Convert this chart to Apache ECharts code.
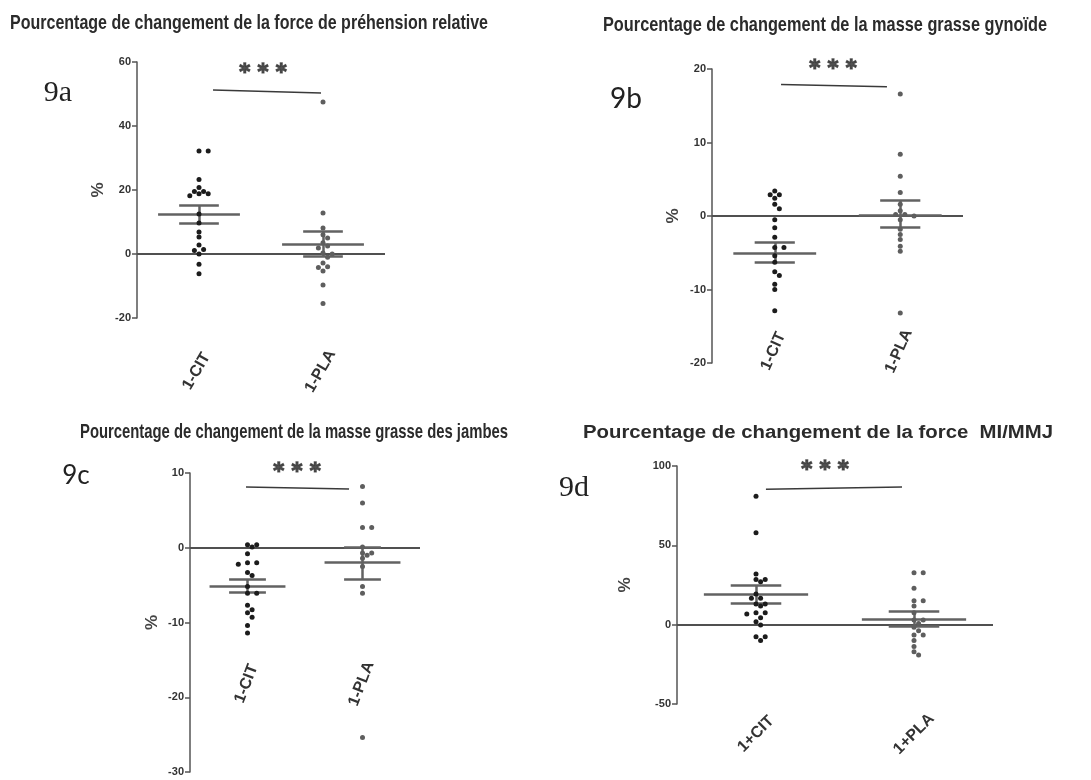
<!DOCTYPE html>
<html>
<head>
<meta charset="utf-8">
<script src="https://cdn.jsdelivr.net/npm/echarts@6/dist/echarts.min.js"></script>
<style>html,body{margin:0;padding:0;background:#fff}#main{width:1091px;height:780px}</style>
</head>
<body>
<div id="main"></div>
<script>
// ---------------- DATA ----------------
const categories = ['1-CIT', '1-PLA'];
const categoriesD = ['1+CIT', '1+PLA'];
const titles = [
  'Pourcentage de changement de la force de préhension relative',
  'Pourcentage de changement de la masse grasse gynoïde',
  'Pourcentage de changement de la masse grasse des jambes',
  'Pourcentage de changement de la force  MI/MMJ'
];
const panelTags = ['9a', '9b', '9c', '9d'];
const yMin = [-20, -20, -30, -50];
const yMax = [60, 20, 10, 100];
const yInterval = [20, 10, 10, 50];
const yName = '%';

const citA = [32.2, 32.2, 23.3, 20.8, 19.5, 18.8, 18.2, 18.8, 19.5, 12.5, 9.7, 6.9, 5.3, 2.8, 1.4, 1.1, 0, -3.2, -6.2];
const plaA = [47.5, 12.8, 8.1, 6.0, 5.0, 3.5, 2.5, 1.9, 0.3, 0, -1.0, -2.8, -4.2, -4.0, -5.3, -9.7, -15.5];
const citB = [3.4, 2.9, 2.9, 2.4, 1.6, 1.0, -0.5, -1.6, -2.9, -4.3, -4.3, -5.4, -6.3, -7.6, -8.1, -9.3, -10.0, -12.9];
const plaB = [16.6, 8.4, 5.4, 3.2, 1.6, 0.7, 0.2, 0.2, 0, -0.5, -1.8, -2.5, -3.2, -4.1, -4.8, -13.2];
const citC = [0.4, 0.4, 0.1, -0.8, -2.0, -2.0, -2.2, -3.3, -3.7, -5.2, -6.1, -6.1, -7.7, -8.3, -8.7, -9.3, -10.4, -11.4];
const plaC = [8.2, 6.0, 2.7, 2.7, 0.1, -0.7, -0.7, -1.0, -1.4, -2.5, -5.2, -6.1, -25.4];
const citD = [81.0, 57.9, 31.9, 28.5, 28.5, 27.0, 19.3, 16.6, 16.6, 13.0, 13.0, 11.7, 7.5, 7.5, 6.7, 4.4, 1.9, -0.2, -7.6, -7.6, -10.0];
const plaD = [32.7, 32.7, 22.9, 15.1, 15.1, 11.7, 7.5, 2.9, 2.9, 0.8, -1.7, -3.8, -6.5, -6.5, -10.0, -13.8, -17.0, -19.1];

const meanCIT = [12.3, -5.0, -5.1, 19.3];
const citSemHi = [15.1, -3.6, -4.2, 25.0];
const citSemLo = [9.6, -6.3, -6.0, 13.8];
const meanPLA = [3.2, 0.1, -2.0, 3.4];
const plaSemHi = [7.2, 2.1, 0.1, 8.2];
const plaSemLo = [-0.6, -1.5, -4.2, -1.3];

// significance bar (category units, value units)
const sigX1 = [0.113, 0.05, -0.013, 0.063];
const sigY1 = [51.25, 17.9, 8.14, 85.4];
const sigX2 = [0.984, 0.894, 0.883, 0.924];
const sigY2 = [50.3, 17.6, 7.87, 86.7];
const starX = [0.516, 0.464, 0.43, 0.437];
const starY = [57.2, 20.4, 10.4, 99.2];
const starText = '* * *';

const citData = [citA, citB, citC, citD];
const plaData = [plaA, plaB, plaC, plaD];

// ---------------- LAYOUT ----------------
const grids = [
  {left: 137, top: 62, width: 248, height: 256},
  {left: 712, top: 69, width: 251, height: 294},
  {left: 190, top: 473, width: 230, height: 299},
  {left: 677, top: 466, width: 316, height: 238}
];
const labelRotate = [60, 66, 69, 45];
const labelMargin = [49, -15, -91, 30];
const labelPad = [[0, 10, 17, 0], [0, 7, 16, 0], [0, 6, 17, 0], [0, 0, 0, 0]];
const nameGap = [30, 30, 29, 43];
const titleBox = [
  {x: 10, w: 478, y: 23, font: 'bold 21px "Liberation Sans Narrow", "Liberation Sans", Arial'},
  {x: 603, w: 444, y: 25, font: 'bold 21px "Liberation Sans Narrow", "Liberation Sans", Arial'},
  {x: 80, w: 428, y: 432, font: 'bold 21px "Liberation Sans Narrow", "Liberation Sans", Arial'},
  {x: 583, w: 470, y: 433, font: 'bold 18px "Liberation Sans", Arial'}
];
const tagBox = [
  {x: 58, y: 93, font: '30px "Liberation Serif", serif'},
  {x: 626, y: 99, font: '28px Lato, "Open Sans", sans-serif'},
  {x: 76, y: 476, font: '26px Lato, "Open Sans", sans-serif'},
  {x: 574, y: 488, font: '30px "Liberation Serif", serif'}
];

function measure(font, text) {
  const c = document.createElement('canvas').getContext('2d');
  c.font = font;
  return c.measureText(text).width;
}

// simple beeswarm layout in pixel space
function swarm(vals, center, pxPerUnit, bandPx) {
  const d = 5.0, step = 4.6;
  const placed = [];
  const sorted = vals.slice().sort((a, b) => b - a);
  return sorted.map(v => {
    const py = v * pxPerUnit;
    let off = 0;
    for (let i = 0; i < 60; i++) {
      off = i === 0 ? 0 : (i % 2 ? 1 : -1) * Math.ceil(i / 2) * step;
      if (placed.every(p => Math.hypot(p[0] - off, p[1] - py) >= d)) break;
    }
    placed.push([off, py]);
    return [center + off / bandPx, v];
  });
}

const xAxes = [], yAxes = [], series = [], graphic = [];
const axisFont = '"Liberation Sans Narrow", "Liberation Sans", Arial';

for (let i = 0; i < 4; i++) {
  xAxes.push({
    type: 'category', gridIndex: i, data: i === 3 ? categoriesD : categories,
    position: 'bottom', boundaryGap: true,
    axisLine: {show: false, onZero: false}, axisTick: {show: false}, splitLine: {show: false},
    axisLabel: {
      interval: 0, rotate: labelRotate[i], margin: labelMargin[i], align: 'center', verticalAlign: 'middle',
      fontFamily: '"Liberation Sans", Arial', fontWeight: 'bold', fontSize: 16, color: '#333',
      padding: labelPad[i]
    }
  });
  yAxes.push({
    type: 'value', gridIndex: i, min: yMin[i], max: yMax[i], interval: yInterval[i],
    axisLine: {show: true, onZero: false, lineStyle: {color: '#555', width: 1.5}},
    axisTick: {show: true, length: 5, lineStyle: {color: '#555', width: 1.5}},
    axisLabel: {margin: 6, fontSize: 11, fontWeight: 'bold', color: '#333', fontFamily: axisFont},
    splitLine: {show: false},
    name: yName, nameLocation: 'middle', nameGap: nameGap[i],
    nameTextStyle: {fontSize: 17, fontWeight: 'bold', color: '#444', fontFamily: '"Liberation Sans", Arial'}
  });
  graphic.push({
    type: 'text', x: titleBox[i].x, y: titleBox[i].y,
    scaleX: titleBox[i].w / measure(titleBox[i].font, titles[i]),
    style: {text: titles[i], font: titleBox[i].font, fill: '#2b2b2b', align: 'left', verticalAlign: 'middle'}
  });
  graphic.push({
    type: 'text', x: tagBox[i].x, y: tagBox[i].y,
    style: {text: panelTags[i], font: tagBox[i].font, fill: '#222', align: 'center', verticalAlign: 'middle'}
  });
}
for (let i = 0; i < 4; i++) {
  xAxes.push({type: 'value', gridIndex: i, min: -0.5, max: 1.5, show: false, position: 'top'});
}

for (let i = 0; i < 4; i++) {
  const g = grids[i];
  const pxPerUnit = g.height / (yMax[i] - yMin[i]);
  const bandPx = g.width / 2;
  const xi = 4 + i;
  // zero line
  series.push({
    type: 'lines', coordinateSystem: 'cartesian2d', xAxisIndex: xi, yAxisIndex: i, silent: true, z: 1,
    lineStyle: {color: '#505050', width: 2, opacity: 1},
    data: [{coords: [[-0.5, 0], [1.5, 0]]}]
  });
  // mean + SEM
  const segs = [];
  [[0, meanCIT[i], citSemHi[i], citSemLo[i]], [1, meanPLA[i], plaSemHi[i], plaSemLo[i]]].forEach(([c, m, hi, lo]) => {
    segs.push({coords: [[c - 0.33, m], [c + 0.33, m]]});
    segs.push({coords: [[c - 0.16, hi], [c + 0.16, hi]]});
    segs.push({coords: [[c - 0.16, lo], [c + 0.16, lo]]});
    segs.push({coords: [[c, lo], [c, hi]]});
  });
  series.push({
    type: 'lines', coordinateSystem: 'cartesian2d', xAxisIndex: xi, yAxisIndex: i, silent: true, z: 2,
    lineStyle: {color: '#626262', width: 2.5, opacity: 1}, data: segs
  });
  // significance line
  series.push({
    type: 'lines', coordinateSystem: 'cartesian2d', xAxisIndex: xi, yAxisIndex: i, silent: true, z: 2, clip: false,
    lineStyle: {color: '#3a3a3a', width: 1.5, opacity: 1},
    data: [{coords: [[sigX1[i], sigY1[i]], [sigX2[i], sigY2[i]]]}]
  });
  series.push({
    type: 'scatter', xAxisIndex: xi, yAxisIndex: i, symbolSize: 5, z: 3,
    itemStyle: {color: '#1c1c1c', opacity: 1},
    data: swarm(citData[i], 0, pxPerUnit, bandPx)
  });
  series.push({
    type: 'scatter', xAxisIndex: xi, yAxisIndex: i, symbolSize: 5, z: 3,
    itemStyle: {color: '#5e5e5e', opacity: 1},
    data: swarm(plaData[i], 1, pxPerUnit, bandPx)
  });
  series.push({
    type: 'scatter', xAxisIndex: xi, yAxisIndex: i, symbolSize: 1, clip: false, silent: true, z: 4,
    itemStyle: {color: 'transparent'},
    label: {show: true, position: 'inside', formatter: starText, offset: [0, 3],
      fontFamily: '"DejaVu Sans"', fontWeight: 'bold', fontSize: 21, color: '#333',
      textBorderColor: '#333', textBorderWidth: 1.3},
    data: [[starX[i], starY[i]]]
  });
}

const chart = echarts.init(document.getElementById('main'), null, {renderer: 'canvas'});
chart.setOption({
  animation: false,
  backgroundColor: '#fff',
  grid: grids.map(g => Object.assign({containLabel: false}, g)),
  xAxis: xAxes,
  yAxis: yAxes,
  series: series,
  graphic: graphic
});
</script>
</body>
</html>
